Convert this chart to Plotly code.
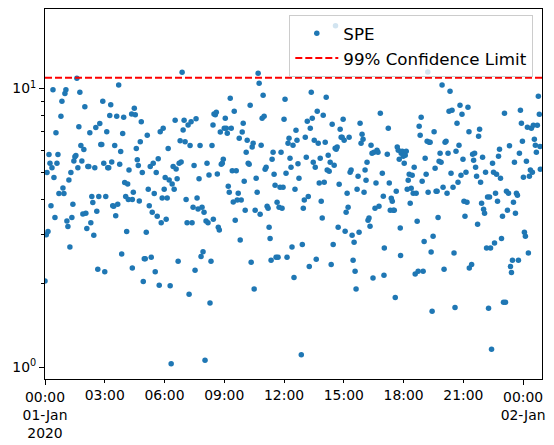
import plotly.graph_objects as go
import pandas as pd

start = pd.Timestamp("2020-01-01 00:00:00")
end_minute = 1497
confidence_limit = 10.93

spe_minutes = [
    0,4,6,9,12,15,18,21,24,27,
    30,33,36,39,42,48,51,54,57,60,
    63,66,69,72,75,78,81,84,87,90,
    93,96,99,102,105,108,111,114,117,120,
    123,126,129,132,135,138,141,144,147,150,
    153,156,159,162,165,168,171,174,177,180,
    183,186,189,192,195,198,201,204,207,210,
    213,216,219,222,225,228,231,234,237,240,
    243,246,249,251,253,
    261,263,263,266,269,272,275,278,281,284,
    287,290,293,296,299,302,305,308,311,314,
    317,320,323,326,329,332,335,338,341,344,
    347,350,353,356,359,362,365,368,371,374,
    377,380,383,386,389,392,395,398,401,404,
    407,410,413,416,419,422,425,428,431,434,
    437,440,443,446,449,452,455,458,461,464,
    467,470,473,476,479,482,485,488,491,494,
    497,500,503,506,507,509,
    513,516,519,522,525,528,531,534,537,540,
    543,546,549,552,555,558,561,564,567,570,
    573,576,579,582,585,588,591,594,597,600,
    603,606,609,612,615,618,621,624,627,630,
    633,636,639,642,645,648,651,654,657,660,
    663,666,669,672,675,678,681,684,687,690,
    693,696,699,702,705,708,711,714,717,720,
    723,726,729,732,735,738,741,744,747,750,
    753,756,759,762,765,
    772,775,778,781,784,787,790,793,796,799,
    802,805,808,811,814,817,820,823,826,829,
    832,835,838,841,844,847,850,853,856,859,
    862,865,868,871,874,875,877,880,883,886,
    889,892,895,898,901,904,907,910,913,916,
    919,922,925,928,931,934,937,940,943,946,
    949,952,955,958,961,964,967,970,973,976,
    979,982,985,988,991,994,997,1000,1003,1006,
    1010,1016,1019,1021,1022,
    1031,1034,1037,1040,1043,1046,1049,1052,1055,1058,
    1061,1064,1067,1070,1071,1073,1076,1079,1082,1085,
    1088,1091,1094,1097,1100,1103,1106,1109,1112,1115,
    1118,1121,1124,1127,1130,1133,1136,1139,1142,1145,
    1148,1151,1153,1154,1157,1160,1163,1166,1169,1172,
    1175,1178,1181,1184,1187,1190,1193,1196,1199,1202,
    1205,1208,1211,1214,1217,1220,1223,1226,1229,1232,
    1235,1238,1241,1244,1247,1250,1253,1256,1259,1262,
    1265,1268,1271,1274,1277,1278,
    1285,1288,1291,1294,1297,1300,1303,1306,1309,1312,
    1315,1318,1321,1324,1327,1330,1333,1336,1339,1342,
    1345,1348,1351,1354,1357,1360,1363,1366,1369,1372,
    1375,1378,1381,1384,1387,1390,1393,1396,1399,1402,
    1405,1408,1411,1414,1417,1420,1423,1426,1429,1432,
    1435,1438,1441,1444,1447,1450,1453,1456,1459,1462,
    1465,1468,1471,1474,1477,1480,1483,1486,1489,1491,
    1492,
]

spe_values = [
    2.04,2.99,5.0,3.07,5.8,5.4,3.8,5.2,9.9,4.8,
    3.45,6.95,5.4,5.8,4.2,7.95,9.0,4.4,4.2,9.6,
    9.9,3.35,3.2,4.7,2.7,5.0,3.45,3.85,5.5,5.7,
    5.75,10.9,5.2,7.3,9.7,6.25,5.5,3.55,6.05,8.6,
    3.57,3.15,5.25,5.25,6.95,3.3,4.1,3.9,2.98,5.2,
    7.25,3.63,2.25,4.1,7.5,6.3,6.3,9.0,5.4,2.2,
    4.1,7.0,5.2,5.2,8.0,8.75,5.45,3.8,3.78,6.25,
    3.5,7.95,3.85,10.3,5.35,5.95,2.55,6.9,7.9,4.6,
    4.1,3.07,4.55,4.0,5.1,
    8.1,4.0,2.27,4.25,8.5,8.05,6.1,5.55,5.3,3.95,
    6.45,7.6,5.0,2.03,2.45,2.45,3.05,6.8,4.35,3.8,
    5.25,2.48,3.6,5.4,4.2,2.2,5.0,3.48,5.6,1.97,
    7.0,3.3,4.05,7.2,4.35,4.8,3.4,4.05,6.1,4.7,
    1.96,1.03,4.55,5.25,4.35,7.7,5.15,4.75,2.4,5.4,
    6.5,5.45,11.45,7.1,7.7,6.45,4.0,3.3,7.4,1.83,
    6.25,7.6,3.3,3.75,5.3,2.23,7.8,4.05,3.7,4.75,
    6.25,2.5,3.75,2.6,3.6,1.06,3.35,5.4,3.3,4.9,
    1.7,2.4,6.25,7.4,3.4,8.1,
    8.05,8.23,4.94,3.18,3.11,6.98,5.35,5.4,5.58,7.21,
    7.83,7.21,6.92,4.46,4.25,9.24,7.21,5.07,3.92,8.3,
    3.37,5.07,3.98,4.21,6.64,2.86,3.98,6.98,7.51,4.65,
    3.66,5.91,6.53,5.4,5.35,8.72,2.38,6.17,6.37,1.91,
    3.66,4.77,4.25,11.36,10.46,3.54,6.26,7.83,9.47,7.96,
    5.14,5.22,3.78,3.72,3.18,2.9,2.42,5.58,5.91,4.93,
    4.5,2.48,3.91,2.48,3.75,4.43,5.91,3.72,4.43,7.77,
    9.16,4.97,2.48,6.37,6.64,5.63,5.22,2.7,6.26,2.1,
    4.35,7.09,6.53,5.37,4.77,
    1.11,2.76,3.72,3.98,6.69,5.67,7.64,4.1,2.3,7.21,
    9.7,7.83,5.44,6.53,5.22,2.44,8.3,6.37,4.58,5.63,
    3.94,3.43,8.03,4.61,6.42,9.31,5.1,5.77,5.05,5.44,
    2.34,7.45,2.76,5.31,6.11,16.8,6.06,6.17,3.18,4.54,
    7.15,6.69,6.69,7.77,6.53,3.08,3.6,4.21,3.75,6.69,
    5.01,5.1,2.98,2.42,2.81,2.21,1.91,4.35,4.85,3.05,
    7.51,6.37,6.86,6.58,4.25,5.1,4.69,5.44,3.37,3.43,
    3.21,6.26,5.86,2.09,5.91,3.72,4.58,6.01,5.91,3.78,
    8.16,4.97,4.11,2.14,2.68,
    5.81,7.21,4.58,3.66,4.04,3.94,3.66,3.66,1.78,4.28,
    6.17,6.01,5.58,3.16,2.52,5.86,5.96,5.72,5.4,5.77,
    5.96,4.35,4.69,4.93,3.88,4.39,4.89,4.21,5.22,2.16,
    4.21,3.34,2.21,7.33,6.8,7.89,4.65,2.21,2.83,5.63,
    4.93,6.47,11.48,4.25,6.42,6.42,2.59,1.59,2.95,7.0,
    5.18,4.28,4.28,3.45,5.49,5.86,5.44,10.3,4.43,2.25,
    6.42,6.47,4.21,5.86,8.3,9.79,4.97,8.37,4.43,2.57,
    1.64,5.96,7.51,4.61,6.26,8.72,4.89,8.09,5.58,3.94,
    3.48,5.01,3.91,8.58,7.0,2.27,
    2.34,5.81,5.53,5.86,5.22,4.85,3.26,6.75,7.15,4.61,
    3.88,5.67,3.69,3.57,5.01,2.68,4.08,1.63,4.08,2.68,
    1.16,5.4,5.01,2.79,4.21,4.93,3.94,5.72,6.06,4.77,
    2.9,3.48,1.71,8.16,1.71,4.28,3.66,4.21,6.23,2.3,
    2.19,2.42,3.91,5.44,3.57,4.21,4.14,2.42,5.86,8.37,
    7.51,6.47,4.81,3.05,2.95,5.49,7.27,2.57,4.85,5.1,
    7.21,5.01,7.39,6.58,6.26,5.91,7.39,9.39,8.09,6.2,
    5.14,
]

assert len(spe_minutes) == len(spe_values)

major_tick_hours = [0, 24]
major_tick_labels = ["00:00<br>01-Jan<br>2020", "00:00<br>02-Jan"]
minor_tick_hours = [3, 6, 9, 12, 15, 18, 21]
minor_tick_labels = ["03:00", "06:00", "09:00", "12:00", "15:00", "18:00", "21:00"]
y_major = [1, 10]
y_major_labels = ["10<sup>0</sup>", "10<sup>1</sup>"]
y_minor = [2, 3, 4, 5, 6, 7, 8, 9]

times = start + pd.to_timedelta(spe_minutes, unit="min")
x_start = start
x_end = start + pd.Timedelta(minutes=end_minute)

fig = go.Figure()
fig.add_trace(go.Scatter(
    x=times, y=spe_values, mode="markers", name="SPE",
    marker=dict(color="#1f77b4", size=5.5, line=dict(width=0)),
))
fig.add_trace(go.Scatter(
    x=[x_start, x_end], y=[confidence_limit, confidence_limit], mode="lines",
    name="99% Confidence Limit", xaxis="x2", yaxis="y",
    line=dict(color="#ff0000", width=2, dash="7px,3px"),
))

axis_common = dict(
    showgrid=False, zeroline=False, automargin=False,
    tickcolor="black", tickwidth=1, ticks="outside",
)

fig.update_layout(
    width=546, height=437,
    margin=dict(l=37, r=12, t=1, b=66),
    paper_bgcolor="white", plot_bgcolor="white",
    font=dict(family="DejaVu Sans", size=13.9, color="black"),
    showlegend=True,
    legend=dict(
        x=0.9825, y=0.984, xanchor="right", yanchor="top",
        bgcolor="rgba(255,255,255,0.8)", bordercolor="#cccccc", borderwidth=1,
        font=dict(family="DejaVu Sans", size=16.7, color="black"),
        tracegroupgap=0, itemwidth=43,
    ),
    xaxis=dict(
        type="date", range=[x_start, x_end],
        tickmode="array",
        tickvals=[start + pd.Timedelta(hours=h) for h in major_tick_hours],
        ticktext=major_tick_labels, ticklen=5,
        showline=True, linecolor="black", linewidth=1, mirror=True,
        **axis_common,
    ),
    xaxis2=dict(
        type="date", range=[x_start, x_end], overlaying="x", anchor="y", side="bottom",
        tickmode="array",
        tickvals=[start + pd.Timedelta(hours=h) for h in minor_tick_hours],
        ticktext=minor_tick_labels, ticklen=3,
        showline=False,
        **axis_common,
    ),
    yaxis=dict(
        type="log", range=[-0.042, 1.2856],
        tickmode="array", tickvals=y_major, ticktext=y_major_labels, ticklen=5,
        minor=dict(tickmode="array", tickvals=y_minor, ticks="outside",
                   ticklen=3, tickwidth=0.8, tickcolor="black", showgrid=False),
        showline=True, linecolor="black", linewidth=1, mirror=True,
        **axis_common,
    ),
)

fig.write_html("out.html")
